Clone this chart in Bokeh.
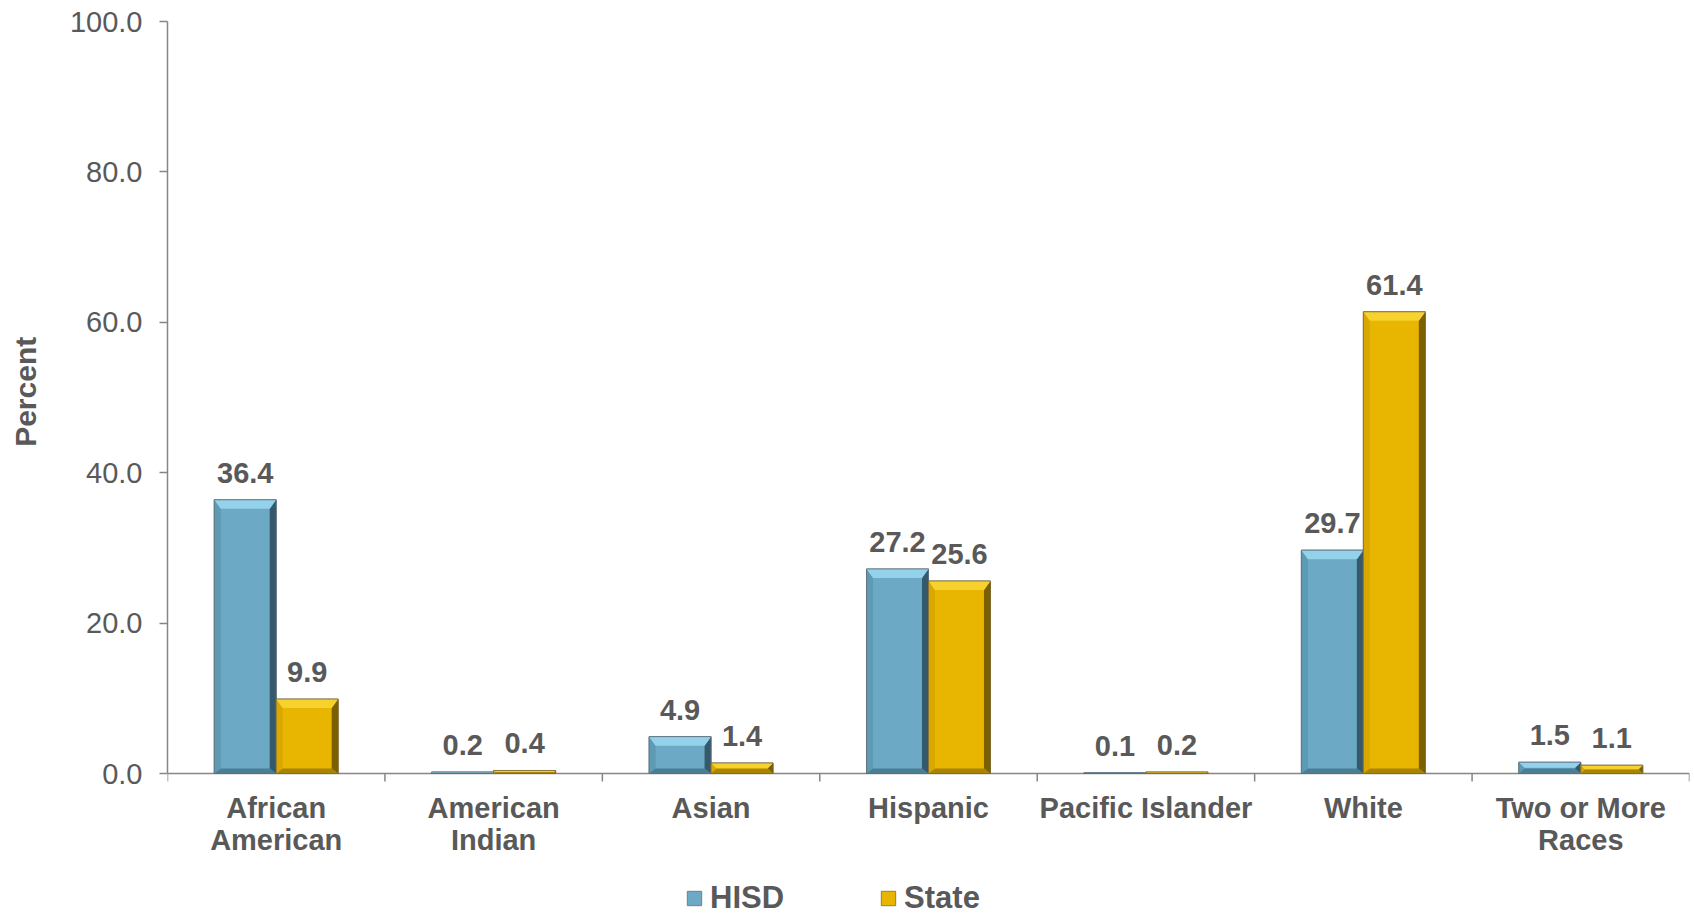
import math
from bokeh.plotting import figure
from bokeh.layouts import row
from bokeh.models import FixedTicker, Legend, LegendItem, Range1d
from bokeh.core.properties import value
from bokeh.embed import file_html
from bokeh.resources import INLINE

# ---- data ----
categories = ["African American", "American Indian", "Asian", "Hispanic",
              "Pacific Islander", "White", "Two or More Races"]
cat_labels = ["African\nAmerican", "American\nIndian", "Asian", "Hispanic",
              "Pacific Islander", "White", "Two or More\nRaces"]
series = ["HISD", "State"]
hisd = [36.4, 0.2, 4.9, 27.2, 0.1, 29.7, 1.5]
state = [9.9, 0.4, 1.4, 25.6, 0.2, 61.4, 1.1]
y_ticks = [0, 20, 40, 60, 80, 100]
y_tick_labels = ["0.0", "20.0", "40.0", "60.0", "80.0", "100.0"]
y_title = "Percent"

FONT = "Liberation Sans"
TXT = "#595959"
AX = "#868686"

# ---- layout (pixels) ----
W_TOTAL, H = 1694, 916
W_TITLE = 50
W = W_TOTAL - W_TITLE
LEFT, TOP, RIGHT = 167 - W_TITLE, 21, 5
PLOT_H = 752          # pixels from 0 to 100
FW = W - LEFT - RIGHT
FH = H - TOP
px_y = PLOT_H / 100.0
px_x = FW / len(categories)
y_min = -(FH - PLOT_H) / px_y

# narrow strip holding the rotated y-axis title
t = figure(width=W_TITLE, height=H, output_backend="svg", toolbar_location=None,
           x_range=Range1d(0, W_TITLE), y_range=Range1d(H, 0),
           min_border=0, x_axis_location=None, y_axis_location=None)
t.outline_line_color = None
t.grid.visible = False
t.text(x=[25], y=[TOP + PLOT_H / 2 - 18], text=[y_title], angle=math.pi / 2,
       text_font=value(FONT), text_font_size="30px", text_font_style="bold",
       text_color=TXT, text_align="center", text_baseline="middle")

p = figure(width=W, height=H, output_backend="svg", toolbar_location=None,
           x_range=Range1d(0, len(categories)), y_range=Range1d(y_min, 100),
           min_border_left=LEFT, min_border_right=RIGHT,
           min_border_top=TOP, min_border_bottom=0, x_axis_location=None)
p.outline_line_color = None
p.grid.visible = False
p.background_fill_color = "white"
p.border_fill_color = "white"

# y axis
p.yaxis.bounds = (0, 100)
p.yaxis.ticker = FixedTicker(ticks=y_ticks, minor_ticks=[])
p.yaxis.major_label_overrides = {t_: l for t_, l in zip(y_ticks, y_tick_labels)}
p.yaxis.major_tick_out = 8
p.yaxis.major_tick_in = 0
p.yaxis.major_tick_line_color = AX
p.yaxis.major_tick_line_width = 1.5
p.yaxis.axis_line_color = AX
p.yaxis.axis_line_width = 1.5
p.yaxis.major_label_standoff = 17
p.yaxis.major_label_text_font = FONT
p.yaxis.major_label_text_font_size = "29px"
p.yaxis.major_label_text_color = TXT

# x axis (drawn at y = 0)
n = len(categories)
p.segment(x0=[0], y0=[0], x1=[n], y1=[0], line_color=AX, line_width=1.5)
bounds = list(range(n + 1))
p.segment(x0=bounds, y0=[0] * len(bounds), x1=bounds,
          y1=[-8 / px_y] * len(bounds), line_color=AX, line_width=1.5)
centers = [i + 0.5 for i in range(n)]
line1 = [lab.split("\n")[0] for lab in cat_labels]
line2 = [lab.split("\n")[1] if "\n" in lab else "" for lab in cat_labels]
for txt, off in ((line1, 34), (line2, 66)):
    p.text(x=centers, y=[0] * n, text=txt, text_font=value(FONT),
           text_font_size="29px", text_font_style="bold", text_color=TXT,
           text_align="center", text_baseline="alphabetic", y_offset=off)

# ---- bars with bevel ----
BW = 0.285
styles = {
    "HISD": dict(body="#6BA9C5", top="#93D2EA", left="#5E9AB4", right="#34596A",
                 bottom="#4B7E93", line="#5d6f78"),
    "State": dict(body="#E8B500", top="#F7D22E", left="#D8A800", right="#7C5F00",
                  bottom="#A88400", line="#7a6a3a"),
}

legend_items = []
for s_idx, (name, vals) in enumerate(zip(series, [hisd, state])):
    st = styles[name]
    xs_c = [i + 0.5 + (s_idx - 0.5) * BW for i in range(n)]
    body = p.vbar(x=xs_c, top=vals, bottom=0, width=BW, fill_color=st["body"],
                  line_color=st["line"], line_width=0.8)
    legend_items.append(LegendItem(label=name, renderers=[body]))
    tops, rights, bottoms, lefts = ([], []), ([], []), ([], []), ([], [])
    for xc, v in zip(xs_c, vals):
        x0, x1 = xc - BW / 2, xc + BW / 2
        hpx = v * px_y
        b_top = min(9.0, hpx / 2.0)
        b_side = min(6.5, hpx / 2.0)
        b_bot = min(5.0, hpx / 2.0)
        dyt = b_top / px_y
        dyb = b_bot / px_y
        dx = b_side / px_x
        tops[0].append([x0, x1, x1 - dx, x0 + dx])
        tops[1].append([v, v, v - dyt, v - dyt])
        rights[0].append([x1, x1, x1 - dx, x1 - dx])
        rights[1].append([v, 0, dyb, v - dyt])
        bottoms[0].append([x0, x1, x1 - dx, x0 + dx])
        bottoms[1].append([0, 0, dyb, dyb])
        lefts[0].append([x0, x0, x0 + dx, x0 + dx])
        lefts[1].append([v, 0, dyb, v - dyt])
    p.patches(xs=lefts[0], ys=lefts[1], fill_color=st["left"], line_color=None)
    p.patches(xs=bottoms[0], ys=bottoms[1], fill_color=st["bottom"], line_color=None)
    p.patches(xs=rights[0], ys=rights[1], fill_color=st["right"], line_color=None)
    p.patches(xs=tops[0], ys=tops[1], fill_color=st["top"], line_color=None)
    p.vbar(x=xs_c, top=vals, bottom=0, width=BW, fill_color=None,
           line_color=st["line"], line_width=0.8)
    p.text(x=xs_c, y=vals, text=[f"{v:.1f}" for v in vals],
           text_font=value(FONT), text_font_size="29px", text_font_style="bold",
           text_color=TXT, text_align="center", text_baseline="alphabetic",
           y_offset=-27)

legend = Legend(items=legend_items, orientation="horizontal",
                location=(518, 0), glyph_width=18, glyph_height=18,
                label_standoff=7, spacing=95, padding=0, margin=0,
                border_line_color=None, background_fill_alpha=0,
                label_text_font=FONT, label_text_font_size="31px",
                label_text_font_style="bold", label_text_color=TXT)
p.add_layout(legend, "center")

layout = row(t, p, spacing=0)
open("out.html", "w").write(file_html(layout, INLINE))
